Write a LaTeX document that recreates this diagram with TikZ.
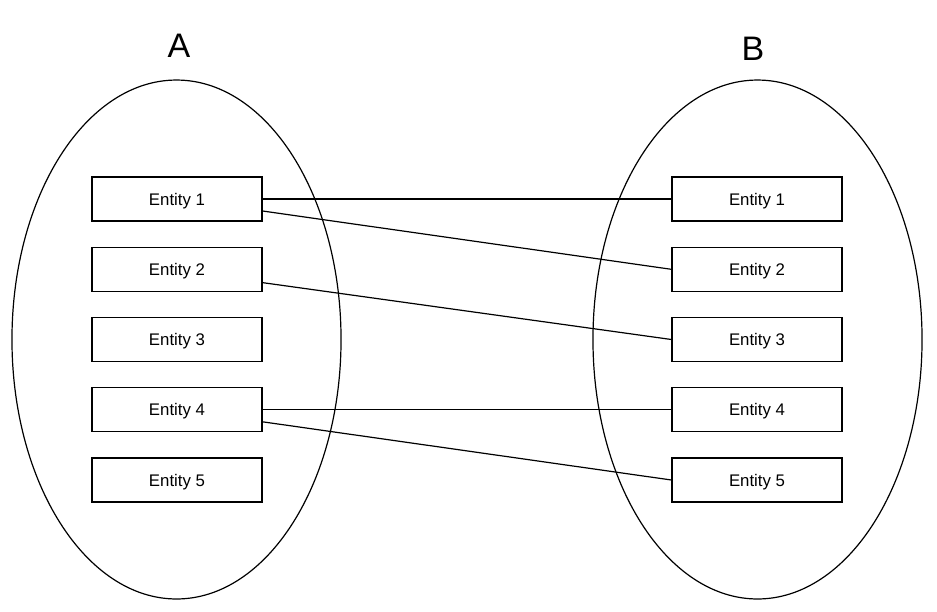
\documentclass[tikz,border=0pt]{standalone}
\usepackage{fontspec}
\setmainfont{Liberation Sans}
\begin{document}
\begin{tikzpicture}[x=0.75pt,y=-0.75pt,
  entbox/.style={draw, line width=0.9pt, minimum width=127.5pt, minimum height=33pt, inner sep=0pt, text height=9pt, text depth=0pt, font=\fontsize{12.6pt}{15pt}\selectfont},
  setlabel/.style={inner sep=0pt, font=\fontsize{25.5pt}{30pt}\selectfont},
  link/.style={line width=0.9pt}]
\useasboundingbox (0,0) rectangle (937,611);
\draw[line width=0.9pt] (176.5,339.5) ellipse [x radius=123.4pt, y radius=194.6pt];
\draw[line width=0.9pt] (757.5,339.5) ellipse [x radius=123.4pt, y radius=194.6pt];
\node[setlabel] (la) at (179,46) {A};
\node[setlabel] (lb) at (753,49) {B};
\node[entbox] (a1) at (177,199) {Entity 1};
\node[entbox] (a2) at (177,269.3) {Entity 2};
\node[entbox] (a3) at (177,339.5) {Entity 3};
\node[entbox] (a4) at (177,409.8) {Entity 4};
\node[entbox] (a5) at (177,480) {Entity 5};
\node[entbox] (b1) at (757,199) {Entity 1};
\node[entbox] (b2) at (757,269.3) {Entity 2};
\node[entbox] (b3) at (757,339.5) {Entity 3};
\node[entbox] (b4) at (757,409.8) {Entity 4};
\node[entbox] (b5) at (757,480) {Entity 5};
\draw[link] (a1.east) -- (b1.west);
\draw[link] ([yshift=-9pt]a1.east) -- (b2.west);
\draw[link] ([yshift=-10pt]a2.east) -- (b3.west);
\draw[link] (a4.east) -- (b4.west);
\draw[link] ([yshift=-9pt]a4.east) -- (b5.west);
\end{tikzpicture}
\end{document}
